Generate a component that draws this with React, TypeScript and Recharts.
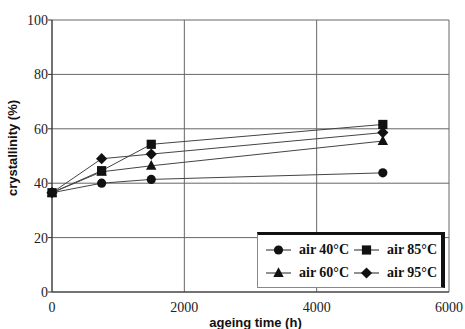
import React from "react"
import { LineChart, Line, XAxis, YAxis, CartesianGrid } from "recharts"

const hours = [0, 750, 1500, 5000]
const air40 = [36.5, 40.0, 41.4, 43.8]
const air60 = [36.5, 44.2, 46.4, 55.5]
const air85 = [36.5, 44.6, 54.3, 61.6]
const air95 = [36.5, 49.0, 50.7, 58.6]

const xTicks = [0, 2000, 4000, 6000]
const yTicks = [0, 20, 40, 60, 80, 100]

const data = hours.map((h, i) => ({
  h,
  air40: air40[i],
  air60: air60[i],
  air85: air85[i],
  air95: air95[i]
}))

type Shape = "circle" | "square" | "triangle" | "diamond"

const series: { key: string; name: string; shape: Shape }[] = [
  { key: "air40", name: "air 40°C", shape: "circle" },
  { key: "air60", name: "air 60°C", shape: "triangle" },
  { key: "air85", name: "air 85°C", shape: "square" },
  { key: "air95", name: "air 95°C", shape: "diamond" }
]

function Marker({ shape, cx, cy }: { shape: Shape; cx: number; cy: number }) {
  if (shape === "circle") return <circle cx={cx} cy={cy} r={4.6} fill="#111" />
  if (shape === "square")
    return <rect x={cx - 4.6} y={cy - 4.6} width={9.2} height={9.2} fill="#111" />
  if (shape === "triangle")
    return (
      <polygon
        points={`${cx},${cy - 5.8} ${cx - 5.2},${cy + 4} ${cx + 5.2},${cy + 4}`}
        fill="#111"
      />
    )
  return (
    <polygon
      points={`${cx},${cy - 5.6} ${cx + 5.6},${cy} ${cx},${cy + 5.6} ${cx - 5.6},${cy}`}
      fill="#111"
    />
  )
}

const tickStyle = { fontFamily: "'Liberation Serif', serif", fontSize: 14, fill: "#222" }
const titleFont = "'Liberation Sans', Arial, sans-serif"

function LegendItem({ shape, name }: { shape: Shape; name: string }) {
  return (
    <div style={{ display: "flex", alignItems: "center", width: 88 }}>
      <svg width={28} height={14}>
        <line x1={1} y1={7} x2={26} y2={7} stroke="#222" strokeWidth={1} />
        <Marker shape={shape} cx={13.5} cy={7} />
      </svg>
      <span style={{ marginLeft: 6, fontFamily: "'Liberation Serif', serif", fontWeight: "bold", fontSize: 14, color: "#111" }}>
        {name}
      </span>
    </div>
  )
}

export default function App() {
  return (
    <div style={{ position: "absolute", left: 0, top: 0, width: 465, height: 329, background: "#fff" }}>
      <LineChart width={465} height={329} data={data} margin={{ top: 20, right: 16, bottom: 0, left: 0 }}>
        <CartesianGrid stroke="#666" strokeWidth={1} />
        <XAxis
          dataKey="h"
          type="number"
          domain={[0, 6000]}
          ticks={xTicks}
          height={37}
          tickLine={false}
          stroke="#333"
          tick={tickStyle}
          tickMargin={4}
          label={(props: any) => {
            const vb = props.viewBox
            return (
              <text
                x={vb.x + vb.width / 2 + 5}
                y={vb.y + vb.height - 2}
                textAnchor="middle"
                fontFamily={titleFont}
                fontWeight="bold"
                fontSize={13}
                fill="#111"
              >
                ageing time (h)
              </text>
            )
          }}
        />
        <YAxis
          type="number"
          domain={[0, 100]}
          ticks={yTicks}
          width={52}
          tickSize={4}
          tickMargin={0}
          stroke="#333"
          tick={tickStyle}
          label={(props: any) => {
            const vb = props.viewBox
            const cx = vb.x + 17
            const cy = vb.y + vb.height / 2 - 8
            return (
              <text
                x={cx}
                y={cy}
                transform={`rotate(-90, ${cx}, ${cy})`}
                textAnchor="middle"
                fontFamily={titleFont}
                fontWeight="bold"
                fontSize={13}
                fill="#111"
              >
                crystallinity (%)
              </text>
            )
          }}
        />
        {series.map((s) => (
          <Line
            key={s.key}
            dataKey={s.key}
            type="linear"
            stroke="#444"
            strokeWidth={1}
            isAnimationActive={false}
            dot={(p: any) => <Marker key={`${s.key}-${p.index}`} shape={s.shape} cx={p.cx} cy={p.cy} />}
          />
        ))}
      </LineChart>
      <div
        style={{
          position: "absolute",
          left: 257,
          top: 232,
          width: 188,
          height: 56,
          background: "#fff",
          borderTop: "3px solid #111",
          borderRight: "4px solid #111",
          borderLeft: "1px solid #888",
          borderBottom: "1px solid #888",
          display: "flex",
          flexWrap: "wrap",
          alignContent: "space-around",
          padding: "3px 0 3px 7px",
          boxSizing: "border-box"
        }}
      >
        <LegendItem shape="circle" name="air 40°C" />
        <LegendItem shape="square" name="air 85°C" />
        <LegendItem shape="triangle" name="air 60°C" />
        <LegendItem shape="diamond" name="air 95°C" />
      </div>
    </div>
  )
}
